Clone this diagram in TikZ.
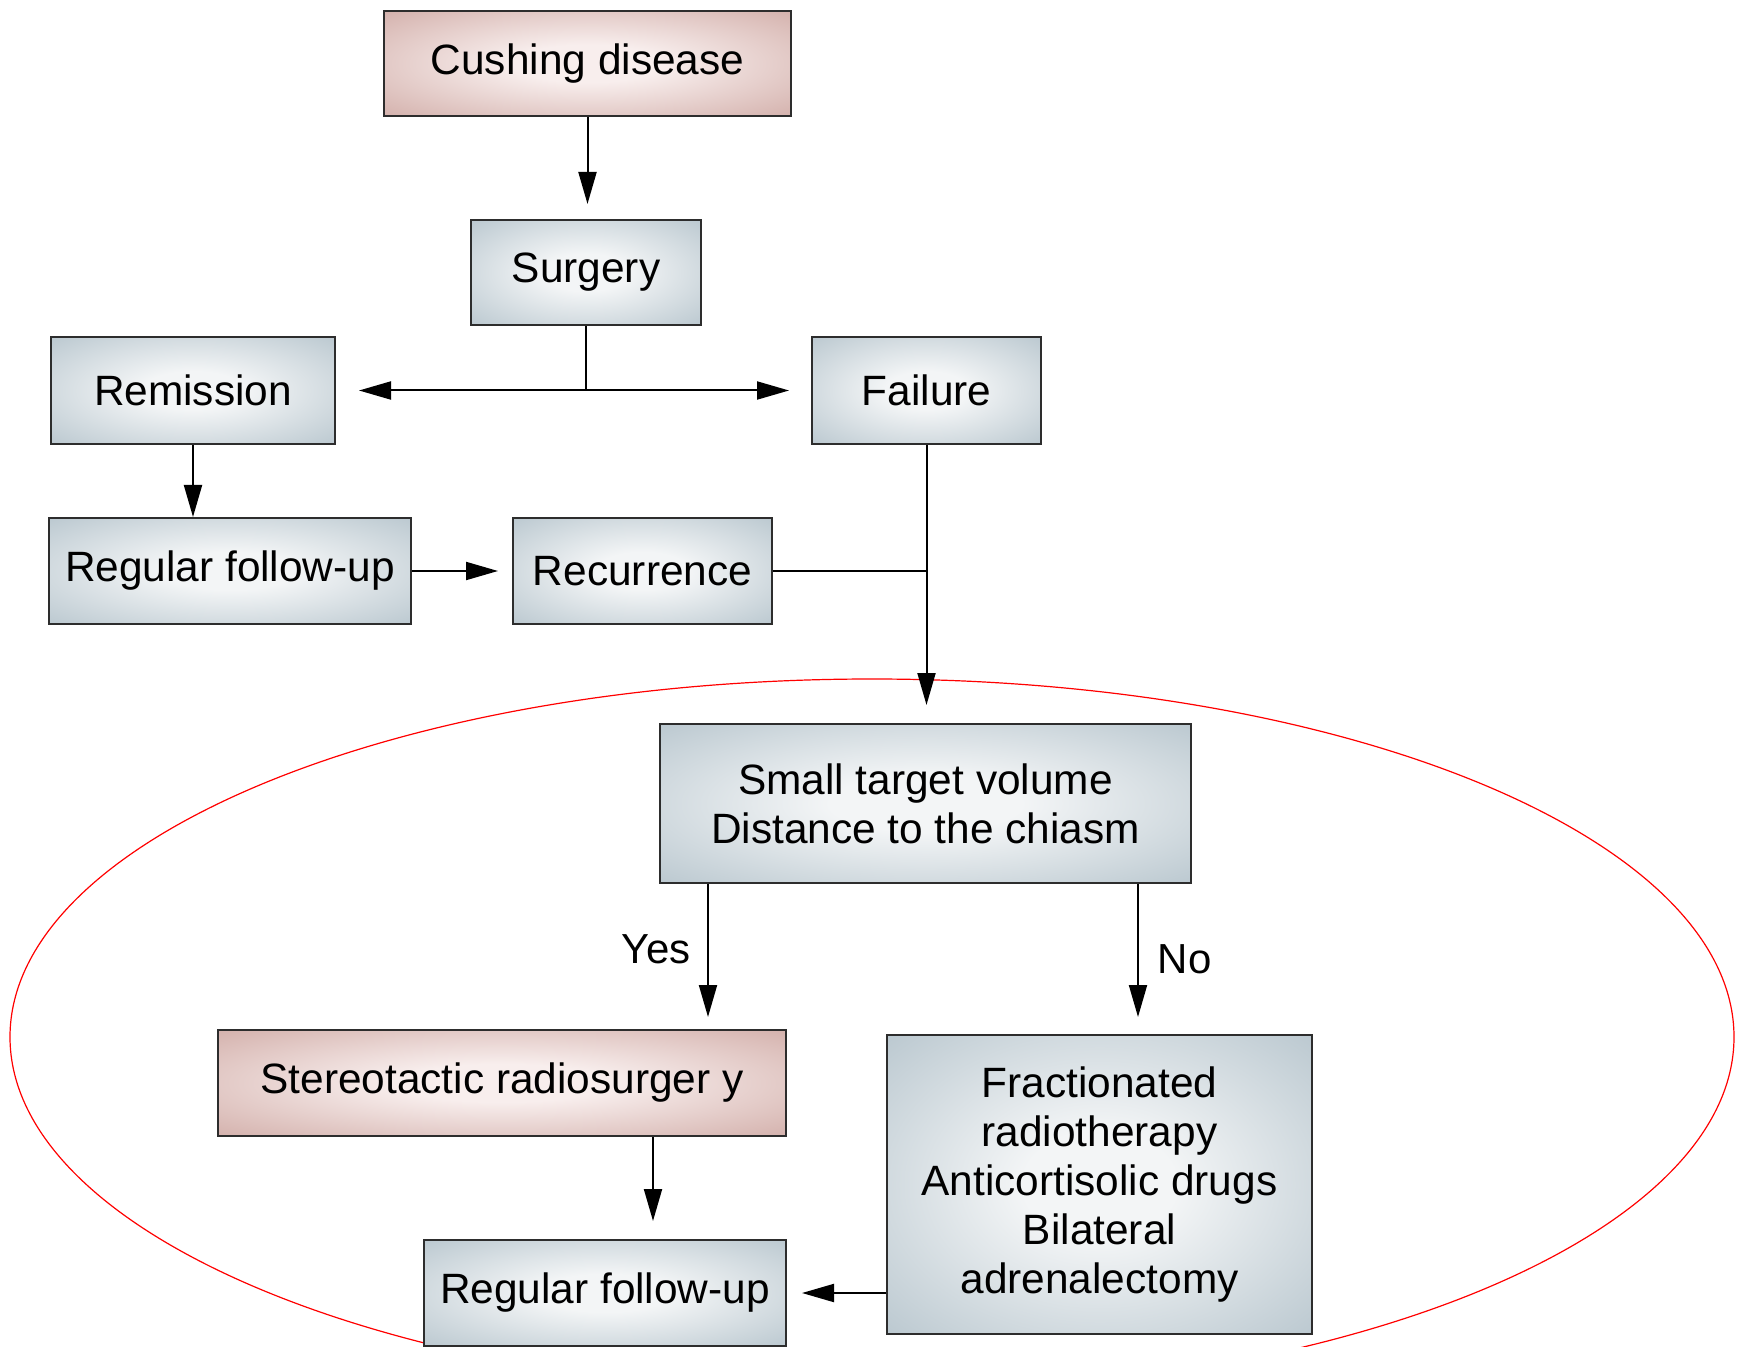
\documentclass[tikz,border=0pt]{standalone}
\usepackage{fontspec}
\setmainfont{Liberation Sans}
\usetikzlibrary{arrows.meta}

\definecolor{rimblue}{RGB}{184,198,206}
\definecolor{coreblue}{RGB}{243,245,246}
\definecolor{rimpink}{RGB}{210,174,169}
\definecolor{corepink}{RGB}{248,238,237}
\definecolor{boxline}{RGB}{45,45,45}
\pgfdeclareradialshading{blueglow}{\pgfpoint{0bp}{0bp}}{color(0bp)=(coreblue); color(9bp)=(coreblue); color(37bp)=(rimblue); color(100bp)=(rimblue)}
\pgfdeclareradialshading{pinkglow}{\pgfpoint{0bp}{0bp}}{color(0bp)=(corepink); color(9bp)=(corepink); color(37bp)=(rimpink); color(100bp)=(rimpink)}

\tikzset{
	box/.style={draw=boxline, line width=1pt, shade, shading=blueglow, align=center, inner sep=0pt, font=\fontsize{21.2}{24.5}\selectfont},
	pinkbox/.style={box, shading=pinkglow},
	arr/.style={-{Triangle[length=16pt,width=9pt]}, line width=1pt},
	lbl/.style={font=\fontsize{21}{24.5}\selectfont}
}

\begin{document}
\begin{tikzpicture}[x=0.5pt, y=-0.5pt]
			%%%%% START %%%%%
			\useasboundingbox (0, 0) rectangle (1739, 1347);
			\clip (0, 0) rectangle (1739, 1347);
			
			\draw[red, line width=0.6pt] (872, 1037) ellipse (431pt and 179pt);
			
			\node[pinkbox, minimum width=203.5pt, minimum height=52.5pt] (cushing) at (587.5, 63.5) {Cushing disease};
			\node[box, minimum width=115pt, minimum height=52.5pt] (surgery) at (586, 272.5) {Surgery};
			\node[box, minimum width=142pt, minimum height=53.5pt] (remission) at (193, 390.5) {Remission};
			\node[box, minimum width=114.5pt, minimum height=53.5pt] (failure) at (926.5, 390.5) {Failure};
			\node[box, minimum width=181pt, minimum height=53pt] (followA) at (230, 571) {Regular follow-up};
			\node[box, minimum width=129.5pt, minimum height=53pt] (recur) at (642.5, 571) {Recurrence};
			
			\node[box, minimum width=265.5pt, minimum height=79.5pt] (target) at (925.5, 803.5) {Small target volume\\Distance to the chiasm};
			\node[pinkbox, minimum width=284pt, minimum height=53pt] (stereo) at (502, 1083) {Stereotactic radiosurger y};
			\node[box, minimum width=212.5pt, minimum height=149.5pt] (fract) at (1099.5, 1184.5) {Fractionated\\radiotherapy\\Anticortisolic drugs\\Bilateral\\adrenalectomy};
			\node[box, minimum width=181pt, minimum height=53pt] (followB) at (605, 1293) {Regular follow-up};
			
			\coordinate (split) at (surgery.south |- remission.east);
			\coordinate (merge) at (failure.south |- recur.east);
			\coordinate (yesfoot) at ([xshift=24.5pt]target.south west);
			\coordinate (nofoot) at ([xshift=-27pt]target.south east);
			\coordinate (stereofoot) at ([xshift=75.5pt]stereo.south);
			
			\draw[arr, shorten >=7.5pt] (cushing.south) -- (cushing.south |- surgery.north);
			\draw[line width=1pt] (surgery.south) -- (split);
			\draw[arr, shorten >=11.5pt] (split) -- (remission.east);
			\draw[arr, shorten >=11pt] (split) -- (failure.west);
			\draw[arr] (remission.south) -- (remission.south |- followA.north);
			\draw[arr, shorten >=7pt] (followA.east) -- (recur.west);
			\draw[line width=1pt] (recur.east) -- (merge);
			\draw[arr, shorten >=9pt] (failure.south) -- (failure.south |- target.north);
			
			\draw[arr, shorten >=6pt] (yesfoot) -- (yesfoot |- stereo.north) node[lbl, pos=0.45, left=5pt] {Yes};
			\draw[arr, shorten >=8.5pt] (nofoot) -- (nofoot |- fract.north) node[lbl, midway, right=6pt] {No};
			\draw[arr, shorten >=9pt] (stereofoot) -- (stereofoot |- followB.north);
			\draw[arr, shorten >=7.5pt] (fract.west |- followB.east) -- (followB.east);
			
			%%%%% END %%%%%
		\end{tikzpicture}
\end{document}
